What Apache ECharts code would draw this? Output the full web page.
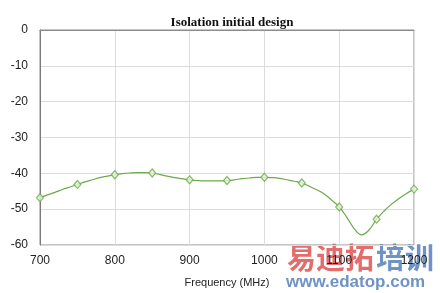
<!DOCTYPE html>
<html>
<head>
<meta charset="utf-8">
<script src="https://cdn.jsdelivr.net/npm/echarts@6/dist/echarts.min.js"></script>
<style>html,body{margin:0;padding:0;background:#fff;}#c{width:440px;height:293px;}</style>
</head>
<body>
<div id="c"></div>
<script>
// Curve (MHz, dB)
var curveFreq = [700,710,720,730,740,750,760,770,780,790,800,810,820,830,840,850,860,870,880,890,900,910,920,930,940,950,960,970,980,990,1000,1010,1020,1030,1040,1050,1060,1070,1080,1090,1100,1110,1120,1130,1140,1150,1160,1170,1180,1190,1200];
var curveIso = [-46.8,-46.0,-45.3,-44.5,-43.8,-43.1,-42.4,-41.8,-41.2,-40.8,-40.4,-40.1,-39.9,-39.8,-39.8,-39.9,-40.3,-40.8,-41.2,-41.5,-41.8,-42.0,-42.1,-42.1,-42.1,-42.0,-41.8,-41.5,-41.3,-41.1,-41.1,-41.2,-41.4,-41.8,-42.2,-42.7,-43.6,-44.6,-45.8,-47.5,-49.4,-52.2,-55.4,-57.2,-55.8,-52.8,-50.5,-48.6,-47.0,-45.6,-44.4];
// Marker points
var markerFreq = [700,750,800,850,900,950,1000,1050,1100,1150,1200];
var markerIso = [-46.8,-43.1,-40.4,-39.9,-41.8,-42.0,-41.1,-42.7,-49.4,-52.8,-44.4];
var xTicks = [700,800,900,1000,1100,1200];
var yTicks = [-60,-50,-40,-30,-20,-10,0];

var curveData = curveFreq.map(function(f,i){return [f,curveIso[i]];});
var markerData = markerFreq.map(function(f,i){return [f,markerIso[i]];});

var chart = echarts.init(document.getElementById('c'), null, {renderer:'canvas'});
chart.setOption({
  animation:false,
  title:{text:'Isolation initial design',left:227,top:11,textAlign:'center',
    textStyle:{fontFamily:'Liberation Serif',fontWeight:'bold',fontSize:13,color:'#111'}},
  grid:{left:40,right:26,top:30,bottom:47,show:true,borderColor:'#8c8c8c',borderWidth:1},
  xAxis:{type:'value',min:xTicks[0],max:xTicks[xTicks.length-1],interval:100,
    name:'Frequency (MHz)',nameLocation:'middle',nameGap:32,
    nameTextStyle:{fontFamily:'Liberation Sans',fontSize:11,color:'#222'},
    axisLine:{show:true,lineStyle:{color:'#8c8c8c'}},axisTick:{show:false},
    axisLabel:{fontFamily:'Liberation Sans',fontSize:12,color:'#222',margin:10,
      formatter:function(v){return String(v);}},
    splitLine:{show:true,lineStyle:{color:'#dcdcdc'}}},
  yAxis:{type:'value',min:yTicks[0],max:yTicks[yTicks.length-1],interval:10,
    axisLine:{show:true,lineStyle:{color:'#7a7a7a'}},axisTick:{show:false},
    axisLabel:{fontFamily:'Liberation Sans',fontSize:12,color:'#222',margin:12},
    splitLine:{show:true,lineStyle:{color:'#dcdcdc'}}},
  series:[
    {type:'line',data:curveData,smooth:0.4,showSymbol:false,symbol:'none',
      lineStyle:{color:'#6aaa4a',width:1.2},z:3},
    {type:'scatter',data:markerData,symbol:'diamond',symbolSize:[7,8],
      itemStyle:{color:'#e8f4dc',borderColor:'#6aaa4a',borderWidth:1.2},z:4}
  ],
  graphic:[
    {type:'text',left:287,top:243,z:-1,style:{text:'易迪拓',fill:'#e36c6c',font:'bold 29px "Noto Sans CJK SC"'}},
    {type:'text',left:376,top:243,z:-1,style:{text:'培训',fill:'#6f93c4',font:'bold 29px "Noto Sans CJK SC"'}},
    {type:'text',left:286,top:274,z:-1,style:{text:'www.edatop.com',fill:'#6f93c4',font:'bold 17px "Liberation Sans"'}}
  ]
});
</script>
</body>
</html>
